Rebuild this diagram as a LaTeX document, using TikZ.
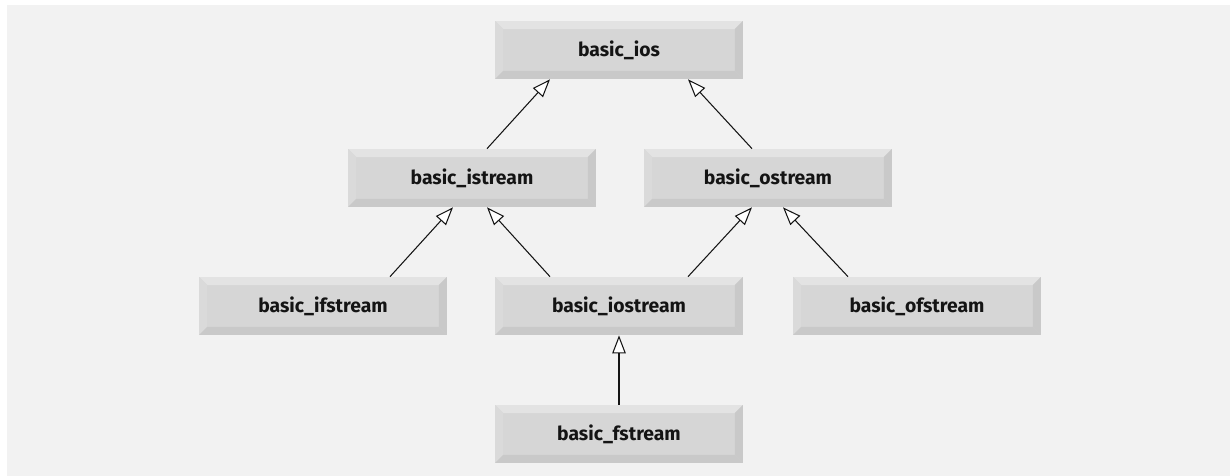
\documentclass[tikz,border=0pt]{standalone}
\usepackage{fontspec}
\setmainfont{Fira Sans}
\usepackage{tikz}
\usetikzlibrary{arrows.meta,calc}
\definecolor{panelgray}{HTML}{F2F2F2}
\definecolor{faceGray}{HTML}{D6D6D6}
\definecolor{lightBevel}{HTML}{E3E3E3}
\definecolor{darkBevel}{HTML}{C9C9C9}
\definecolor{inkBlack}{HTML}{141414}

\tikzset{
  classbox/.style={minimum width=4.96cm, minimum height=1.16cm, inner sep=0pt,
    fill=faceGray, font=\fontsize{11}{13}\selectfont\bfseries, text=inkBlack,
    path picture={
      \coordinate (nw) at (path picture bounding box.north west);
      \coordinate (se) at (path picture bounding box.south east);
      \coordinate (ne) at (path picture bounding box.north east);
      \coordinate (sw) at (path picture bounding box.south west);
      \fill[lightBevel] (nw) -- (ne) -- ([shift={(-0.16cm,-0.16cm)}]ne)
        -- ([shift={(0.16cm,-0.16cm)}]nw) -- cycle;
      \fill[lightBevel!96!black] (nw) -- ([shift={(0.16cm,-0.16cm)}]nw)
        -- ([shift={(0.16cm,0.16cm)}]sw) -- (sw) -- cycle;
      \fill[darkBevel] (sw) -- (se) -- ([shift={(-0.16cm,0.16cm)}]se)
        -- ([shift={(0.16cm,0.16cm)}]sw) -- cycle;
      \fill[darkBevel] (ne) -- (se) -- ([shift={(-0.16cm,0.16cm)}]se)
        -- ([shift={(-0.16cm,-0.16cm)}]ne) -- cycle;
    }},
  inherit/.style={draw=inkBlack, line width=0.6pt,
    -{Triangle[length=0.36cm, width=0.27cm, fill=white, line width=0.6pt]}}
}

\begin{document}
\begin{tikzpicture}[x=0.02cm, y=-0.02cm]
  \useasboundingbox (0,0) rectangle (1230,476);
  \fill[panelgray] (7,5) rectangle (1230,476);

  % class hierarchy
  \node[classbox] (ios)  at (619,50)  {basic\_ios};
  \node[classbox] (ist)  at (472,178) {basic\_istream};
  \node[classbox] (ost)  at (768,178) {basic\_ostream};
  \node[classbox] (ifs)  at (323,306) {basic\_ifstream};
  \node[classbox] (iost) at (619,306) {basic\_iostream};
  \node[classbox] (ofs)  at (917,306) {basic\_ofstream};
  \node[classbox] (fst)  at (619,434) {basic\_fstream};

  % inheritance arrows
  \draw[inherit] ($(ist.north)+(15,0)$) -- ($(ios.south)+(-69,0)$);
  \draw[inherit] ($(ost.north)+(-16,0)$) -- ($(ios.south)+(69,0)$);
  \draw[inherit] ($(ifs.north)+(67,0)$) -- ($(ist.south)+(-19,0)$);
  \draw[inherit] ($(iost.north)+(-69,0)$) -- ($(ist.south)+(15,0)$);
  \draw[inherit] ($(iost.north)+(69,0)$) -- ($(ost.south)+(-16,0)$);
  \draw[inherit] ($(ofs.north)+(-69,0)$) -- ($(ost.south)+(15,0)$);
  \draw[inherit] (fst) -- (iost);
\end{tikzpicture}
\end{document}
